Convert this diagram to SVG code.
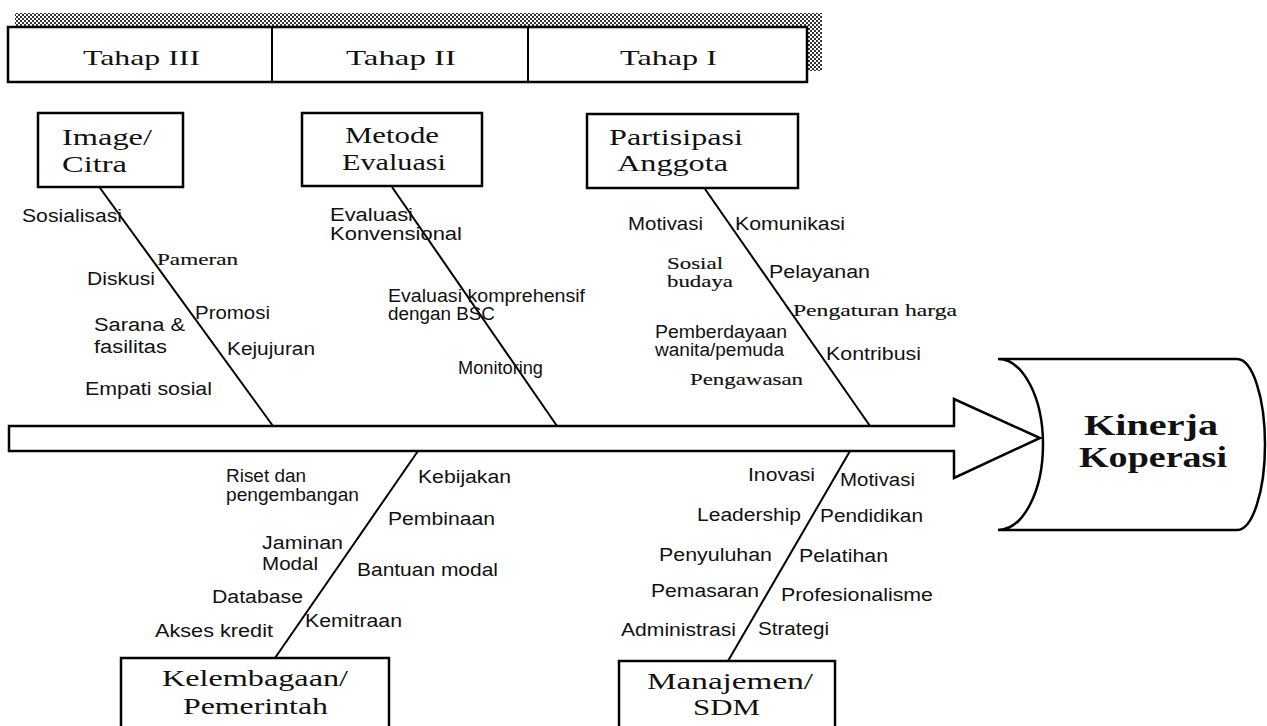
<svg xmlns="http://www.w3.org/2000/svg" width="1267" height="726" viewBox="0 0 1267 726">
<defs>
<pattern id="chk" width="4" height="4" patternUnits="userSpaceOnUse">
<rect width="4" height="4" fill="#ffffff"/>
<rect x="0" y="0" width="2" height="2" fill="#333"/>
<rect x="2" y="2" width="2" height="2" fill="#333"/>
</pattern>
</defs>
<style>
.box{fill:#fff;stroke:#000;stroke-width:2.5}
.bone{stroke:#000;stroke-width:2;fill:none}
.t{font-family:"Liberation Serif","Times New Roman",serif;font-size:24px;fill:#111}
.l{font-family:"Liberation Sans",Arial,sans-serif;font-size:18px;fill:#111}
.s{font-family:"Liberation Serif","Times New Roman",serif;font-size:17px;fill:#111;stroke:#111;stroke-width:0.15}
.h{font-family:"Liberation Serif","Times New Roman",serif;font-size:29px;font-weight:bold;fill:#111}
.tab{font-family:"Liberation Serif","Times New Roman",serif;font-size:21px;fill:#111}
</style>
<rect width="1267" height="726" fill="#fff"/>

<g id="header">
<rect x="15" y="13" width="807" height="14" fill="url(#chk)"/>
<rect x="808" y="13" width="14" height="58" fill="url(#chk)"/>
<rect x="8" y="27" width="799" height="55" class="box" stroke-width="2"/>
<line x1="272" y1="27" x2="272" y2="82" stroke="#000" stroke-width="2"/>
<line x1="528" y1="27" x2="528" y2="82" stroke="#000" stroke-width="2"/>
<text class="tab" x="83" y="65" textLength="117" lengthAdjust="spacingAndGlyphs">Tahap III</text>
<text class="tab" x="346" y="65" textLength="110" lengthAdjust="spacingAndGlyphs">Tahap II</text>
<text class="tab" x="620" y="65" textLength="97" lengthAdjust="spacingAndGlyphs">Tahap I</text>
</g>

<g id="spine">
<polygon points="9,426 954,426 954,399 1040,438 954,478 954,451 9,451" fill="#fff" stroke="#000" stroke-width="2.5" stroke-linejoin="miter"/>
</g>

<g id="node-kinerja">
<path d="M 998 359 L 1237 359 A 28 85.5 0 0 1 1237 530 L 998 530 A 45 85.5 0 0 0 998 359 Z" fill="#fff" stroke="#000" stroke-width="2.5"/>
<text class="h" x="1084" y="435" textLength="134" lengthAdjust="spacingAndGlyphs">Kinerja</text>
<text class="h" x="1079" y="467" textLength="148" lengthAdjust="spacingAndGlyphs">Koperasi</text>
</g>

<g id="connectors">
<line class="bone" x1="100" y1="188" x2="273" y2="426"/>
<line class="bone" x1="392" y1="187" x2="557" y2="426"/>
<line class="bone" x1="705" y1="189" x2="870" y2="426"/>
<line class="bone" x1="418" y1="451" x2="275" y2="658"/>
<line class="bone" x1="850" y1="451" x2="728" y2="661"/>
</g>

<g id="node-image">
<rect class="box" x="38" y="113" width="145" height="74"/>
<text class="t" x="62" y="145" textLength="90" lengthAdjust="spacingAndGlyphs">Image/</text>
<text class="t" x="62" y="172" textLength="65" lengthAdjust="spacingAndGlyphs">Citra</text>
</g>
<g id="labels-image">
<text class="l" x="22" y="222" textLength="100" lengthAdjust="spacingAndGlyphs">Sosialisasi</text>
<text class="s" x="157" y="265" textLength="81" lengthAdjust="spacingAndGlyphs">Pameran</text>
<text class="l" x="87" y="285" textLength="68" lengthAdjust="spacingAndGlyphs">Diskusi</text>
<text class="l" x="195" y="319" textLength="75" lengthAdjust="spacingAndGlyphs">Promosi</text>
<text class="l" x="94" y="331" textLength="91" lengthAdjust="spacingAndGlyphs">Sarana &amp;</text>
<text class="l" x="94" y="353" textLength="73" lengthAdjust="spacingAndGlyphs">fasilitas</text>
<text class="l" x="227" y="355" textLength="88" lengthAdjust="spacingAndGlyphs">Kejujuran</text>
<text class="l" x="85" y="395" textLength="127" lengthAdjust="spacingAndGlyphs">Empati sosial</text>
</g>

<g id="node-metode">
<rect class="box" x="302" y="113" width="180" height="73"/>
<text class="t" x="345" y="143" textLength="94" lengthAdjust="spacingAndGlyphs">Metode</text>
<text class="t" x="342" y="170" textLength="104" lengthAdjust="spacingAndGlyphs">Evaluasi</text>
</g>
<g id="labels-metode">
<text class="l" x="330" y="221" textLength="83" lengthAdjust="spacingAndGlyphs">Evaluasi</text>
<text class="l" x="330" y="240" textLength="132" lengthAdjust="spacingAndGlyphs">Konvensional</text>
<text class="l" x="388" y="302" textLength="197" lengthAdjust="spacingAndGlyphs">Evaluasi komprehensif</text>
<text class="l" x="388" y="320" textLength="107" lengthAdjust="spacingAndGlyphs">dengan BSC</text>
<text class="l" x="458" y="374" textLength="85" lengthAdjust="spacingAndGlyphs">Monitoring</text>
</g>

<g id="node-partisipasi">
<rect class="box" x="587" y="114" width="211" height="74"/>
<text class="t" x="609" y="145" textLength="134" lengthAdjust="spacingAndGlyphs">Partisipasi</text>
<text class="t" x="617" y="171" textLength="111" lengthAdjust="spacingAndGlyphs">Anggota</text>
</g>
<g id="labels-partisipasi">
<text class="l" x="628" y="230" textLength="75" lengthAdjust="spacingAndGlyphs">Motivasi</text>
<text class="l" x="735" y="230" textLength="110" lengthAdjust="spacingAndGlyphs">Komunikasi</text>
<text class="s" x="667" y="269" textLength="56" lengthAdjust="spacingAndGlyphs">Sosial</text>
<text class="s" x="667" y="287" textLength="66" lengthAdjust="spacingAndGlyphs">budaya</text>
<text class="l" x="769" y="278" textLength="101" lengthAdjust="spacingAndGlyphs">Pelayanan</text>
<text class="s" x="793" y="316" textLength="164" lengthAdjust="spacingAndGlyphs">Pengaturan harga</text>
<text class="l" x="655" y="338" textLength="132" lengthAdjust="spacingAndGlyphs">Pemberdayaan</text>
<text class="l" x="655" y="356" textLength="129" lengthAdjust="spacingAndGlyphs">wanita/pemuda</text>
<text class="l" x="826" y="360" textLength="95" lengthAdjust="spacingAndGlyphs">Kontribusi</text>
<text class="s" x="690" y="385" textLength="113" lengthAdjust="spacingAndGlyphs">Pengawasan</text>
</g>

<g id="node-kelembagaan">
<rect class="box" x="121" y="658" width="268" height="90"/>
<text class="t" x="162" y="686" textLength="186" lengthAdjust="spacingAndGlyphs">Kelembagaan/</text>
<text class="t" x="183" y="714" textLength="145" lengthAdjust="spacingAndGlyphs">Pemerintah</text>
</g>
<g id="labels-kelembagaan">
<text class="l" x="226" y="482" textLength="80" lengthAdjust="spacingAndGlyphs">Riset dan</text>
<text class="l" x="226" y="501" textLength="133" lengthAdjust="spacingAndGlyphs">pengembangan</text>
<text class="l" x="418" y="483" textLength="93" lengthAdjust="spacingAndGlyphs">Kebijakan</text>
<text class="l" x="388" y="525" textLength="107" lengthAdjust="spacingAndGlyphs">Pembinaan</text>
<text class="l" x="262" y="549" textLength="81" lengthAdjust="spacingAndGlyphs">Jaminan</text>
<text class="l" x="262" y="570" textLength="56" lengthAdjust="spacingAndGlyphs">Modal</text>
<text class="l" x="357" y="576" textLength="141" lengthAdjust="spacingAndGlyphs">Bantuan modal</text>
<text class="l" x="212" y="603" textLength="91" lengthAdjust="spacingAndGlyphs">Database</text>
<text class="l" x="305" y="627" textLength="97" lengthAdjust="spacingAndGlyphs">Kemitraan</text>
<text class="l" x="155" y="637" textLength="118" lengthAdjust="spacingAndGlyphs">Akses kredit</text>
</g>

<g id="node-manajemen">
<rect class="box" x="619" y="661" width="216" height="90"/>
<text class="t" x="647" y="689" textLength="166" lengthAdjust="spacingAndGlyphs">Manajemen/</text>
<text class="t" x="693" y="715" textLength="67" lengthAdjust="spacingAndGlyphs">SDM</text>
</g>
<g id="labels-manajemen">
<text class="l" x="748" y="481" textLength="67" lengthAdjust="spacingAndGlyphs">Inovasi</text>
<text class="l" x="840" y="486" textLength="75" lengthAdjust="spacingAndGlyphs">Motivasi</text>
<text class="l" x="697" y="521" textLength="104" lengthAdjust="spacingAndGlyphs">Leadership</text>
<text class="l" x="820" y="522" textLength="103" lengthAdjust="spacingAndGlyphs">Pendidikan</text>
<text class="l" x="659" y="561" textLength="113" lengthAdjust="spacingAndGlyphs">Penyuluhan</text>
<text class="l" x="799" y="562" textLength="89" lengthAdjust="spacingAndGlyphs">Pelatihan</text>
<text class="l" x="651" y="597" textLength="108" lengthAdjust="spacingAndGlyphs">Pemasaran</text>
<text class="l" x="781" y="601" textLength="152" lengthAdjust="spacingAndGlyphs">Profesionalisme</text>
<text class="l" x="621" y="636" textLength="115" lengthAdjust="spacingAndGlyphs">Administrasi</text>
<text class="l" x="758" y="635" textLength="71" lengthAdjust="spacingAndGlyphs">Strategi</text>
</g>
</svg>
